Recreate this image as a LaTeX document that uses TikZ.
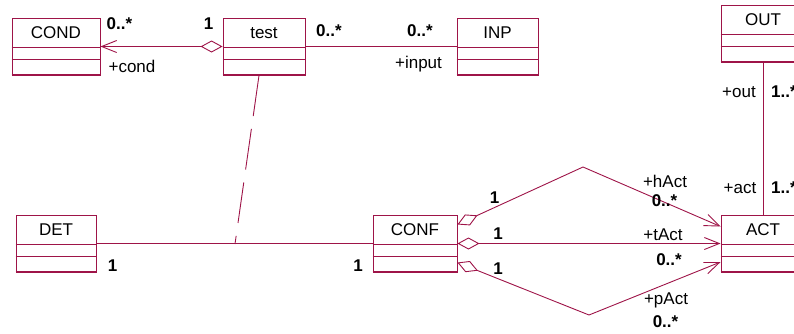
\documentclass[tikz,border=0pt]{standalone}
\usepackage{fontspec}
\setmainfont{Liberation Sans}
\usetikzlibrary{arrows.meta,calc}
\definecolor{umlred}{RGB}{158,20,72}
\tikzset{
  classbox/.style={draw=umlred, line width=0.9pt, minimum height=57pt, inner sep=0pt},
  classname/.style={font=\fontsize{17}{20}\selectfont, text height=12pt, text depth=0pt, inner sep=0pt},
  role/.style={font=\fontsize{17}{20}\selectfont, text height=12pt, text depth=0pt, inner sep=0pt},
  mult/.style={font=\fontsize{17}{20}\selectfont\bfseries, text height=12pt, text depth=0pt, inner sep=0pt},
  link/.style={draw=umlred, line width=0.9pt},
  aggr/.style={{Diamond[open,length=22pt,width=12pt]}-{Straight Barb[length=15pt,width=12pt]}}
}
\begin{document}
\begin{tikzpicture}[x=1pt,y=-1pt]
\clip (0,0) rectangle (794,333);
\node[classbox, minimum width=88pt] (COND) at (56,46.5) {};
\node[classbox, minimum width=82pt] (test) at (264,46.5) {};
\node[classbox, minimum width=81pt] (INP) at (497.5,46.5) {};
\node[classbox, minimum width=84pt] (OUT) at (763,33.5) {};
\node[classbox, minimum width=80pt] (DET) at (56,243.5) {};
\node[classbox, minimum width=84pt] (CONF) at (415,243.5) {};
\node[classbox, minimum width=84pt] (ACT) at (763,243.5) {};
\foreach \c in {COND,test,INP,OUT,DET,CONF,ACT} {
  \draw[umlred, line width=0.6pt] ([yshift=-30pt]\c.north west) -- ([yshift=-30pt]\c.north east);
  \draw[umlred, line width=0.6pt] ([yshift=-42pt]\c.north west) -- ([yshift=-42pt]\c.north east);
  \draw[umlred, line width=2pt] (\c.south west) -- (\c.south east);
  \node[classname] (\c-name) at ([yshift=-15pt]\c.north) {\c};
}
\coordinate (hbend) at (583,167);
\coordinate (pbend) at (589,315);
\coordinate (detlink) at (235,244);
\draw[link, aggr] (test.west) -- (COND.east);
\draw[link] (test.east) -- (INP.west);
\draw[link] (OUT.south) -- (ACT.north);
\draw[link] (DET.east) -- (CONF.west);
\draw[link, dash pattern=on 41pt off 13pt] ([xshift=-5pt]test.south) -- (detlink);
\draw[link, aggr] ([yshift=19pt]CONF.east) -- (hbend) -- ([yshift=17pt]ACT.west);
\draw[link, aggr] (CONF.east) -- (ACT.west);
\draw[link, aggr] ([yshift=-19pt]CONF.east) -- (pbend) -- ([yshift=-18.5pt]ACT.west);
\node[mult] (m-cond) at (119.5,23) {0..*};
\node[mult] (m-test) at (208.5,23) {1};
\node[role] (r-cond) at (132,66) {+cond};
\node[mult] (m-test2) at (329,30) {0..*};
\node[mult] (m-inp) at (420,30) {0..*};
\node[role] (r-input) at (418.5,62) {+input};
\node[role] (r-out) at (739,91) {+out};
\node[mult, anchor=west] (m-out) at (771,91) {1..*};
\node[role] (r-act) at (740,187) {+act};
\node[mult, anchor=west] (m-act) at (771,187) {1..*};
\node[mult] (m-det) at (112.5,265) {1};
\node[mult] (m-conf) at (358,265) {1};
\node[mult] (m-h1) at (494.5,197) {1};
\node[role] (r-hact) at (665,181) {+hAct};
\node[mult] (m-h2) at (664.5,200) {0..*};
\node[mult] (m-t1) at (498,233) {1};
\node[role] (r-tact) at (663,234) {+tAct};
\node[mult] (m-t2) at (669,259) {0..*};
\node[mult] (m-p1) at (498,268) {1};
\node[role] (r-pact) at (666,298) {+pAct};
\node[mult] (m-p2) at (665.5,321) {0..*};
\end{tikzpicture}
\end{document}
